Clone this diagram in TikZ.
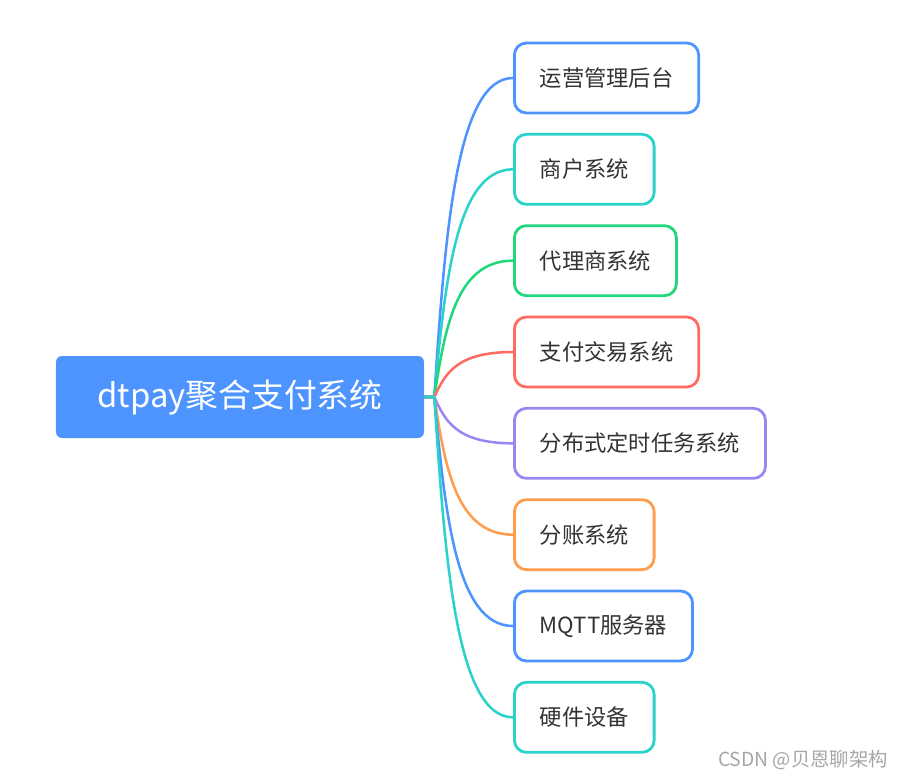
\documentclass[tikz,border=0pt]{standalone}
\usepackage{fontspec}
\newfontfamily\cjk{Noto Sans CJK SC}
\usepackage{xcolor}
\usepackage{tikz}
\usetikzlibrary{positioning,calc}

\definecolor{mapblue}{HTML}{4D94FF}
\definecolor{mapcyan}{HTML}{2AD2C9}
\definecolor{mapgreen}{HTML}{22D67C}
\definecolor{mapred}{HTML}{FF6B60}
\definecolor{mappurple}{HTML}{9C87F2}
\definecolor{maporange}{HTML}{FF9D4D}
\definecolor{maptext}{HTML}{333333}

\begin{document}
\begin{tikzpicture}[
    node distance=13.9pt,
    every node/.style={font=\cjk},
    root/.style={rectangle, rounded corners=4.5pt, fill=mapblue, text=white, font=\cjk\fontsize{24.6pt}{28pt}\selectfont, minimum width=276pt, minimum height=61.5pt},
    leaf/.style={rectangle, rounded corners=9pt, line width=2.1pt, fill=white, text=maptext, font=\cjk\fontsize{16.7pt}{20pt}\selectfont, minimum height=52.5pt, inner xsep=19pt},
    link/.style={line width=1.9pt}
]

\useasboundingbox (-180pt,-286.5pt) rectangle (497.25pt,297.75pt);

\node[root] (root) at (0,0) {dtpay聚合支付系统};
\coordinate (hub) at ($(root.east)+(7.5pt,0)$);

\node[leaf, draw=mapblue, anchor=west] (ops) at (204.75pt,239.25pt) {运营管理后台};
\node[leaf, draw=mapcyan, below=of ops.south west, anchor=north west] (merchant) {商户系统};
\node[leaf, draw=mapgreen, below=of merchant.south west, anchor=north west] (agent) {代理商系统};
\node[leaf, draw=mapred, below=of agent.south west, anchor=north west] (trade) {支付交易系统};
\node[leaf, draw=mappurple, below=of trade.south west, anchor=north west] (sched) {分布式定时任务系统};
\node[leaf, draw=maporange, below=of sched.south west, anchor=north west] (split) {分账系统};
\node[leaf, draw=mapblue, below=of split.south west, anchor=north west] (mqtt) {MQTT服务器};
\node[leaf, draw=mapcyan, below=of mqtt.south west, anchor=north west] (device) {硬件设备};

\draw[link, mapblue] (root.east) -- (hub) .. controls ($(hub)!0.5!(hub|-ops.west)+(8pt,0)$) and ($(hub|-ops.west)+(16pt,0)$) .. (ops.west);
\draw[link, mapcyan] (root.east) -- (hub) .. controls ($(hub)!0.5!(hub|-merchant.west)+(8pt,0)$) and ($(hub|-merchant.west)+(16pt,0)$) .. (merchant.west);
\draw[link, mapgreen] (root.east) -- (hub) .. controls ($(hub)!0.5!(hub|-agent.west)+(8pt,0)$) and ($(hub|-agent.west)+(16pt,0)$) .. (agent.west);
\draw[link, mapred] (root.east) -- (hub) .. controls ($(hub)!0.5!(hub|-trade.west)+(8pt,0)$) and ($(hub|-trade.west)+(16pt,0)$) .. (trade.west);
\draw[link, mappurple] (root.east) -- (hub) .. controls ($(hub)!0.5!(hub|-sched.west)+(8pt,0)$) and ($(hub|-sched.west)+(16pt,0)$) .. (sched.west);
\draw[link, maporange] (root.east) -- (hub) .. controls ($(hub)!0.5!(hub|-split.west)+(8pt,0)$) and ($(hub|-split.west)+(16pt,0)$) .. (split.west);
\draw[link, mapblue] (root.east) -- (hub) .. controls ($(hub)!0.5!(hub|-mqtt.west)+(8pt,0)$) and ($(hub|-mqtt.west)+(16pt,0)$) .. (mqtt.west);
\draw[link, mapcyan] (root.east) -- (hub) .. controls ($(hub)!0.5!(hub|-device.west)+(8pt,0)$) and ($(hub|-device.west)+(16pt,0)$) .. (device.west);

\node[text=gray!70, font=\cjk\fontsize{14.5pt}{16pt}\selectfont] (mark) at (422.25pt,-272.25pt) {CSDN @贝恩聊架构};

\end{tikzpicture}
\end{document}
